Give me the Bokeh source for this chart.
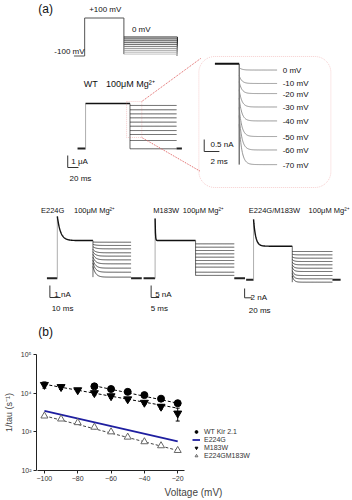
import numpy as np
from bokeh.plotting import figure
from bokeh.layouts import column
from bokeh.models import (Range1d, BoxAnnotation, FixedTicker, CustomJSTickFormatter,
                          Legend, LegendItem, Whisker, ColumnDataSource, TeeHead)
from bokeh.core.properties import value
from bokeh.embed import file_html
from bokeh.resources import INLINE

FONT = "Liberation Sans"

# ---------------- data: panel (b) ----------------
v_wt = [-70, -60, -50, -40, -30, -20]
rate_wt = [15000, 12800, 10800, 8900, 7200, 5500]
err_wt = [1500, 1300, 1000, 600, 600, 700]
v_m = [-100, -90, -80, -70, -60, -50, -40, -30, -20]
rate_m = [16500, 14500, 12000, 10100, 8400, 7000, 5700, 4500, 3000]
err_m = [3000, 2000, 1200, 1200, 1000, 700, 600, 600, 1100]
v_d = [-100, -90, -80, -70, -60, -50, -40, -30, -20]
rate_d = [2570, 2150, 1730, 1320, 1000, 730, 555, 437, 330]
v_e = [-100, -20]
rate_e = [3470, 563]
fit_wt_v, fit_wt_r = [-70, -20], [15500, 5500]
fit_m_v, fit_m_r = [-100, -20], [17000, 4100]
fit_d_v, fit_d_r = [-100, -20], [2600, 330]

# ---------------- data: panel (a) ----------------
step_mV = [0, -10, -20, -30, -40, -50, -60, -70, -80, -90]
hold_mV, pre_mV = -100, 100
proto_ms = [20, 73.3, 100]          # holding, prepulse, test

wt = dict(hold_ms=15, pre_ms=83, test_ms=87, tail_ms=10,
          hold_I=-3.67, peak_I=0.08, plat_I=0.08, tau_pre=0.1,
          test_I=[-0.08, -0.44, -0.78, -1.11, -1.47, -1.81, -2.17, -2.5, -3.0, -3.69],
          I0_frac=1.0, tau_test=0.1)
e224g = dict(hold_ms=9.7, pre_ms=33.3, test_ms=35.6, tail_ms=10,
             hold_I=-3.06, peak_I=2.1, plat_I=0.08, tau_pre=3.0,
             test_I=[-0.06, -0.33, -0.61, -0.94, -1.22, -1.53, -1.86, -2.22, -2.56, -2.97],
             I0_frac=0.7, tau_test=2.5)
m183w = dict(hold_ms=7.2, pre_ms=25.2, test_ms=24.1, tail_ms=6.7,
             hold_I=-14.5, peak_I=10.4, plat_I=1.25, tau_pre=0.2,
             test_I=[-0.14, -1.54, -2.92, -4.3, -5.7, -7.08, -8.46, -9.85, -11.96, -13.3],
             I0_frac=1.0, tau_test=0.2)
double = dict(hold_ms=20.8, pre_ms=108.5, test_ms=112.5, tail_ms=23,
              hold_I=-6.09, peak_I=6.9, plat_I=1.14, tau_pre=6.0,
              test_I=[0.0, -0.72, -1.44, -2.15, -2.86, -3.6, -4.3, -5.16, -5.88, -6.6],
              I0_frac=0.8, tau_test=5.0)
inset_mV = ["0 mV", "-10 mV", "-20 mV", "-30 mV", "-40 mV", "-50 mV", "-60 mV", "-70 mV"]
inset_I = [-0.26, -0.82, -1.24, -1.8, -2.38, -3.03, -3.59, -4.2]
inset_pre_ms, inset_test_ms, inset_tau, inset_I0_frac = 3.2, 5.0, 0.35, 0.6

P_PROTO = dict(x0=42, y0=36.5, sx=0.6, sy=0.19)
P_WT = dict(x0=46, y0=104, sx=0.6, sy=12)
P_INSET = dict(x0=200, y0=63.3, sx=8.5, sy=24)
P_E = dict(x0=11.7, y0=241, sx=1.2, sy=12)
P_M = dict(x0=120, y0=243, sx=1.8, sy=2.4)
P_D = dict(x0=235, y0=251, sx=0.4, sy=4.65)


def X(P, t):
    return list(P["x0"] + np.asarray(t, dtype=float) * P["sx"])


def Y(P, i):
    return list(P["y0"] - np.asarray(i, dtype=float) * P["sy"])


p = figure(width=352, height=340, x_range=Range1d(0, 352), y_range=Range1d(340, 0),
           x_axis_type=None, y_axis_type=None, output_backend="svg",
           toolbar_location=None, min_border=0)
p.grid.visible = False
p.outline_line_color = None


def txt(x, y, s, size="8px", align="left", color="#111"):
    p.text(x=[x], y=[y], text=[s], text_font=value(FONT), text_font_size=size,
           text_align=align, text_baseline="middle", text_color=color)


P = P_PROTO
t1, t2, t3 = proto_ms[0], proto_ms[0] + proto_ms[1], sum(proto_ms)
p.line(X(P, [0, t1, t1, t2, t2]), Y(P, [hold_mV, hold_mV, pre_mV, pre_mV, step_mV[-1]]),
       line_color="#555", line_width=1)
greys = ["#111", "#222", "#333", "#444", "#555", "#777", "#888", "#999", "#aaa", "#bbb"]
for k, v in enumerate(step_mV):
    p.line(X(P, [t2, t3, t3]), Y(P, [v, v, hold_mV]), line_color=greys[k], line_width=0.9)
txt(2, 8, "(a)", size="12px")
txt(59, 9, "+100 mV")
txt(107, 28.5, "0 mV")
txt(20, 51, "-100 mV")


def draw_panel(P, D, fam_color="#222"):
    h, pre, te, tail = D["hold_ms"], D["pre_ms"], D["test_ms"], D["tail_ms"]
    p.line(X(P, [0, h]), Y(P, [D["hold_I"]] * 2), line_color="#222", line_width=2)
    p.line(X(P, [h, h]), Y(P, [D["hold_I"], D["peak_I"]]), line_color="#999", line_width=0.8)
    t = np.linspace(0, pre, 120)
    I = D["plat_I"] + (D["peak_I"] - D["plat_I"]) * np.exp(-t / D["tau_pre"])
    p.line(X(P, h + t), Y(P, I), line_color="#111", line_width=1.4)
    ts = h + pre
    lows = [D["I0_frac"] * s for s in D["test_I"]]
    p.line(X(P, [ts, ts]), Y(P, [D["plat_I"], min(lows + D["test_I"])]), line_color="#444", line_width=0.8)
    t = np.linspace(0, te, 120)
    xs, ys = [], []
    for s, i0 in zip(D["test_I"], lows):
        I = s + (i0 - s) * np.exp(-t / D["tau_test"])
        xs.append(X(P, ts + t))
        ys.append(Y(P, I))
    p.multi_line(xs, ys, line_color=fam_color, line_width=0.8)
    p.line(X(P, [ts + te, ts + te + tail]), Y(P, [D["hold_I"]] * 2), line_color="#222", line_width=2)


def scale_bar(P, bx, by, amp, ms, lab_amp, lab_t, ax, ay, tx_, ty_):
    p.line([bx, bx, bx + ms * P["sx"]], [by - amp * P["sy"], by, by], line_color="#333", line_width=1)
    txt(ax, ay, lab_amp)
    txt(tx_, ty_, lab_t)


draw_panel(P_WT, wt)
scale_bar(P_WT, 35, 167, 1, 20, "1 μA", "20 ms", 39, 160.5, 37, 177.5)
txt(53, 83, "WT", size="9px")
txt(78, 83, "100μM Mg²⁺", size="9px")

red = "#e06060"
p.add_layout(BoxAnnotation(left=101, right=118, top=101, bottom=137, fill_color=None,
                           line_color=red, line_dash="1 1", line_width=1))
p.add_layout(BoxAnnotation(left=182, right=330, top=56, bottom=187, fill_color=None,
                           line_color=red, line_dash="1 1", line_width=1, border_radius=16))
p.line([118, 184], [101, 58], line_color=red, line_dash="1 1", line_width=1)
p.line([118, 184], [137, 171], line_color=red, line_dash="1 1", line_width=1)

P = P_INSET
p.line(X(P, [0, inset_pre_ms]), Y(P, [0, 0]), line_color="#111", line_width=2)
p.line(X(P, [inset_pre_ms] * 2), Y(P, [0, min(inset_I)]), line_color="#222", line_width=0.9)
t = np.linspace(0, inset_test_ms, 120)
xs, ys = [], []
for s in inset_I:
    I = s + (inset_I0_frac * s - s) * np.exp(-t / inset_tau)
    xs.append(X(P, inset_pre_ms + t))
    ys.append(Y(P, I))
p.multi_line(xs, ys, line_color="#777", line_width=0.8)
for s, lab in zip(inset_I, inset_mV):
    txt(276, Y(P, [s])[0] + 0.5, lab)
scale_bar(P, 188, 151, 0.5, 2, "0.5 nA", "2 ms", 195, 144, 195, 161)

draw_panel(P_E, e224g)
draw_panel(P_M, m183w)
draw_panel(P_D, double)
scale_bar(P_E, 15, 297, 1, 10, "1 nA", "10 ms", 20, 294, 17, 308)
scale_bar(P_M, 128.5, 297, 5, 5, "5 nA", "5 ms", 133, 294, 128, 308)
scale_bar(P_D, 233.3, 297.3, 2, 20, "2 nA", "20 ms", 240, 296.7, 238, 310)
txt(5, 210, "E224G", size="7.5px")
txt(42, 210, "100μM Mg²⁺", size="7.5px")
txt(131, 210, "M183W", size="7.5px")
txt(164, 210, "100μM Mg²⁺", size="7.5px")
txt(238, 210, "E224G/M183W", size="7.5px")
txt(305, 210, "100μM Mg²⁺", size="7.5px")
txt(2, 331, "(b)", size="12px")

q = figure(width=352, height=160, y_axis_type="log",
           x_range=Range1d(-104.74, 83.7), y_range=Range1d(100, 1e5),
           output_backend="svg", toolbar_location=None,
           min_border_left=32, min_border_right=2, min_border_top=14, min_border_bottom=28)
q.grid.visible = False
q.outline_line_color = None

q.line(fit_wt_v, fit_wt_r, line_color="black", line_dash="3 2", line_width=1)
q.line(fit_m_v, fit_m_r, line_color="black", line_dash="3 2", line_width=1)
q.line(fit_d_v, fit_d_r, line_color="#444", line_dash="3 2", line_width=1)
r_e = q.line(v_e, rate_e, line_color="#1f1fa0", line_width=1.8)

for v, r, e in [(v_wt, rate_wt, err_wt), (v_m, rate_m, err_m)]:
    src = ColumnDataSource(dict(x=v, up=[a + b for a, b in zip(r, e)], lo=[a - b for a, b in zip(r, e)]))
    q.add_layout(Whisker(base="x", upper="up", lower="lo", source=src, line_color="black",
                         upper_head=TeeHead(size=4, line_color="black"),
                         lower_head=TeeHead(size=4, line_color="black")))

r_wt = q.scatter(v_wt, rate_wt, marker="circle", size=7, fill_color="black", line_color="black")
r_m = q.scatter(v_m, rate_m, marker="inverted_triangle", size=8, fill_color="black", line_color="black")
r_d = q.scatter(v_d, rate_d, marker="triangle", size=7, fill_color="white", line_color="#666")

legend = Legend(items=[LegendItem(label="WT Kir 2.1", renderers=[r_wt]),
                       LegendItem(label="E224G", renderers=[r_e]),
                       LegendItem(label="M183W", renderers=[r_m]),
                       LegendItem(label="E224GM183W", renderers=[r_d])],
                location=(156, 11), label_text_font=FONT, label_text_font_size="7px",
                label_text_color="#333", glyph_height=7, glyph_width=8, label_height=7,
                spacing=1, padding=0, margin=0, border_line_color=None,
                background_fill_alpha=0, label_standoff=4)
q.add_layout(legend)

q.xaxis.ticker = FixedTicker(ticks=[-100, -80, -60, -40, -20])
q.xaxis.bounds = (-104, -16)
q.yaxis.ticker = FixedTicker(ticks=[100, 1000, 10000, 100000])
q.yaxis.bounds = (100, 100000)
q.yaxis.formatter = CustomJSTickFormatter(code="""
const s = {"2": "²", "3": "³", "4": "⁴", "5": "⁵"};
return "10" + s[String(Math.round(Math.log10(tick)))];
""")
for ax in q.axis:
    ax.major_tick_out = 3
    ax.major_tick_in = 0
    ax.minor_tick_out = 0
    ax.minor_tick_in = 0
    ax.major_label_text_font = FONT
    ax.major_label_text_font_size = "7px"
    ax.major_label_text_color = "#333"
    ax.major_label_standoff = 2
    ax.axis_label_text_font = FONT
    ax.axis_label_text_font_style = "normal"
    ax.axis_line_color = "#222"
    ax.major_tick_line_color = "#222"
q.xaxis.axis_label = "Voltage (mV)"
q.xaxis.axis_label_text_font_size = "10px"
q.xaxis.axis_label_standoff = 3
q.yaxis.axis_label = "1/tau (s⁻¹)"
q.yaxis.axis_label_text_font_size = "9px"
q.yaxis.axis_label_standoff = 4

layout = column(p, q, spacing=0)
open("out.html", "w").write(file_html(layout, INLINE))
